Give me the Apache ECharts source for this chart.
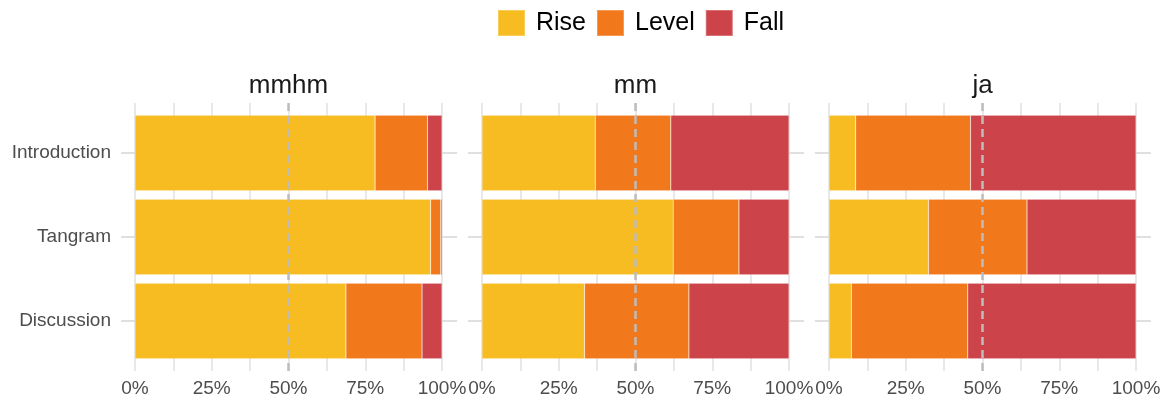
<!DOCTYPE html>
<html>
<head>
<meta charset="utf-8">
<script src="https://cdn.jsdelivr.net/npm/echarts@6/dist/echarts.min.js"></script>
<style>
  html, body { margin: 0; padding: 0; background: #ffffff; }
  #chart { width: 1169px; height: 403px; }
</style>
</head>
<body>
<div id="chart"></div>
<script>
// Share of pitch contours (Rise / Level / Fall) per conversation phase, one panel per token
const panels = ['mmhm', 'mm', 'ja'];
const phases = ['Introduction', 'Tangram', 'Discussion'];
const contours = ['Rise', 'Level', 'Fall'];
const xTicks = [0, 0.25, 0.5, 0.75, 1];

// proportions per panel, in phase order
const mmhmRise  = [0.782, 0.963, 0.687];
const mmhmLevel = [0.171, 0.033, 0.248];
const mmhmFall  = [0.047, 0.004, 0.065];

const mmRise  = [0.369, 0.623, 0.334];
const mmLevel = [0.246, 0.214, 0.340];
const mmFall  = [0.385, 0.163, 0.326];

const jaRise  = [0.087, 0.324, 0.073];
const jaLevel = [0.374, 0.321, 0.379];
const jaFall  = [0.539, 0.355, 0.548];

const reference = 0.5;

const values = [
  [mmhmRise, mmhmLevel, mmhmFall],
  [mmRise, mmLevel, mmFall],
  [jaRise, jaLevel, jaFall]
];

const colors = { Rise: '#F8BC23', Level: '#F2781C', Fall: '#CD434A' };
const FONT = '"Liberation Sans", Arial, Helvetica, sans-serif';
const gridColor = '#e0e0e0';
const textGray = '#4d4d4d';

const panelLeft = [135, 482, 829];
const panelWidth = 307;
const outerTop = 103, outerHeight = 268;   // panel incl. padding
const barTop = 111, barHeight = 252;        // band area

const grids = [], xAxes = [], yAxes = [], series = [], titles = [];

panels.forEach((name, p) => {
  const bg = p * 2, fg = p * 2 + 1;
  // background panel: vertical grid lines, percentage labels, reference line
  grids.push({ left: panelLeft[p], top: outerTop, width: panelWidth, height: outerHeight });
  // bar panel
  grids.push({ left: panelLeft[p], top: barTop, width: panelWidth, height: barHeight });

  xAxes.push({
    type: 'value', gridIndex: bg, min: 0, max: 1, interval: 0.125,
    axisLine: { show: false }, axisTick: { show: false },
    splitLine: { show: true, lineStyle: { color: gridColor, width: 1.5 } },
    axisLabel: {
      show: true, margin: 8, color: textGray, fontSize: 19, fontFamily: FONT,
      showMinLabel: true, showMaxLabel: true,
      formatter: v => {
        const hit = xTicks.find(t => Math.abs(t - v) < 1e-6);
        return hit === undefined ? '' : Math.round(hit * 100) + '%';
      }
    }
  });
  xAxes.push({
    type: 'value', gridIndex: fg, min: 0, max: 1,
    show: false
  });

  yAxes.push({ type: 'value', gridIndex: bg, min: 0, max: 1, show: false });
  yAxes.push({
    type: 'category', gridIndex: fg, data: phases, inverse: true, position: 'left',
    axisLine: { show: false },
    axisTick: { show: true, alignWithLabel: true, length: 14, lineStyle: { color: '#d6d6d6', width: 1.5 } },
    axisLabel: { show: p === 0, margin: 24, color: textGray, fontSize: 19, fontFamily: FONT },
    splitLine: { show: false }
  });
  yAxes.push({
    type: 'category', gridIndex: fg, data: phases, inverse: true, position: 'right',
    axisLine: { show: false },
    axisTick: { show: true, alignWithLabel: true, length: 15, lineStyle: { color: '#d6d6d6', width: 1.5 } },
    axisLabel: { show: false },
    splitLine: { show: false }
  });

  titles.push({
    text: name, left: panelLeft[p] + panelWidth / 2, top: 73, textAlign: 'center', padding: 0,
    textStyle: { fontSize: 26, fontWeight: 'normal', color: '#1a1a1a', fontFamily: FONT }
  });
});

// y-axis indices: each panel holds bg(value), fg-left(category), fg-right(category)
const yIndex = (p) => ({ bg: p * 3, fgLeft: p * 3 + 1 });

panels.forEach((name, p) => {
  contours.forEach((c, k) => {
    series.push({
      name: c, type: 'bar', stack: 'panel' + p,
      xAxisIndex: p * 2 + 1, yAxisIndex: yIndex(p).fgLeft,
      barCategoryGap: '10%',
      itemStyle: { color: colors[c], borderColor: 'rgba(255,255,255,0.25)', borderWidth: 0.6 },
      data: values[p][k],
      z: 2
    });
  });
  series.push({
    name: 'ref' + p, type: 'line', xAxisIndex: p * 2, yAxisIndex: yIndex(p).bg,
    data: [[reference, 0], [reference, 1]],
    symbol: 'none', silent: true, z: 10,
    lineStyle: { color: '#bcbcbc', width: 2.5, type: [8, 5] }
  });
});

const chart = echarts.init(document.getElementById('chart'), null, { renderer: 'canvas' });
chart.setOption({
  animation: false,
  backgroundColor: '#ffffff',
  title: titles,
  legend: {
    data: contours, left: 497, top: 9, icon: 'rect', padding: 0,
    itemWidth: 27, itemHeight: 26, itemGap: 10,
    textStyle: { fontSize: 25, color: '#000000', fontFamily: FONT, padding: [0, 0, 0, 6] }
  },
  grid: grids,
  xAxis: xAxes,
  yAxis: yAxes,
  series: series
});
</script>
</body>
</html>
